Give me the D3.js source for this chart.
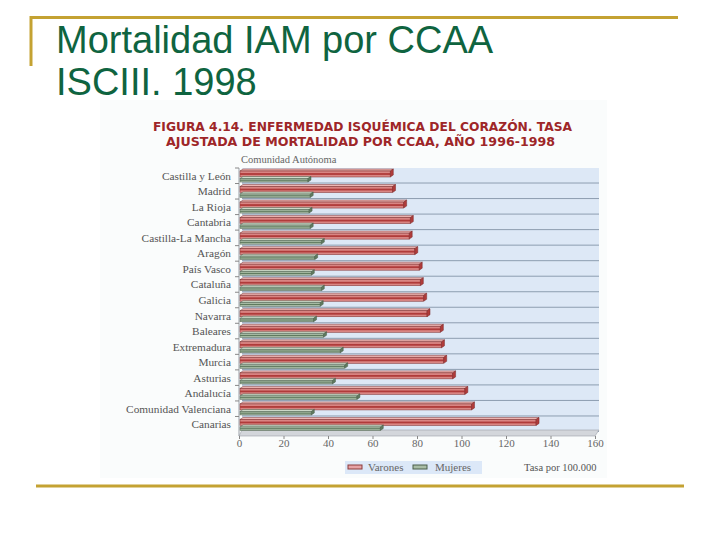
<!DOCTYPE html>
<html>
<head>
<meta charset="utf-8">
<script src="https://cdn.jsdelivr.net/npm/d3@7"></script>
<style>
  body { margin: 0; background: #ffffff; }
  svg { display: block; }
</style>
</head>
<body>
<div id="chart"></div>
<script>
// data
var regions = ["Castilla y León", "Madrid", "La Rioja", "Cantabria", "Castilla-La Mancha",
  "Aragón", "País Vasco", "Cataluña", "Galicia", "Navarra", "Baleares", "Extremadura",
  "Murcia", "Asturias", "Andalucía", "Comunidad Valenciana", "Canarias"];
var varones = [68, 69, 74, 77, 76.5, 79, 81, 81.5, 83, 84.5, 90.5, 91, 92, 96, 101.5, 104.5, 133.5];
var mujeres = [31, 32, 31.5, 32, 37, 34, 32.5, 37, 36.5, 33.5, 38, 45.5, 47.5, 42, 53, 32.5, 63.5];
var xTicks = [0, 20, 40, 60, 80, 100, 120, 140, 160];

var svgWidth = 720;
var svgHeight = 540;

var svg = d3.select("#chart")
  .append("svg")
  .attr("width", svgWidth)
  .attr("height", svgHeight);

var gold = "#c4a232";

// slide frame
svg.append("line").attr("x1", 30).attr("x2", 678).attr("y1", 17.5).attr("y2", 17.5)
  .attr("stroke", gold).attr("stroke-width", 3);
svg.append("line").attr("x1", 31).attr("x2", 31).attr("y1", 16).attr("y2", 66)
  .attr("stroke", gold).attr("stroke-width", 3);
svg.append("line").attr("x1", 36).attr("x2", 684).attr("y1", 486).attr("y2", 486)
  .attr("stroke", gold).attr("stroke-width", 3);

// slide title
var slideTitle = svg.append("text")
  .attr("font-family", "Liberation Sans, Arial, sans-serif")
  .attr("font-size", 38)
  .attr("fill", "#0f6440");
slideTitle.append("tspan").attr("x", 56).attr("y", 53).text("Mortalidad IAM por CCAA");
slideTitle.append("tspan").attr("x", 56).attr("y", 95).text("ISCIII. 1998");

// scanned figure background
svg.append("rect").attr("x", 100).attr("y", 100).attr("width", 507).attr("height", 378)
  .attr("fill", "#fafcfc");

// figure heading
svg.append("text")
  .attr("x", 153).attr("y", 131)
  .attr("textLength", 419).attr("lengthAdjust", "spacingAndGlyphs")
  .attr("font-family", "DejaVu Sans, sans-serif").attr("font-weight", "bold")
  .attr("font-size", 12.5).attr("fill", "#9e2628")
  .text("FIGURA 4.14. ENFERMEDAD ISQUÉMICA DEL CORAZÓN. TASA");
svg.append("text")
  .attr("x", 166).attr("y", 146)
  .attr("textLength", 389).attr("lengthAdjust", "spacingAndGlyphs")
  .attr("font-family", "DejaVu Sans, sans-serif").attr("font-weight", "bold")
  .attr("font-size", 12.5).attr("fill", "#9e2628")
  .text("AJUSTADA DE MORTALIDAD POR CCAA, AÑO 1996-1998");

svg.append("text")
  .attr("x", 241).attr("y", 163)
  .attr("font-family", "Liberation Serif, serif").attr("font-size", 10.5)
  .attr("fill", "#666")
  .text("Comunidad Autónoma");

// scales
var x = d3.scaleLinear().domain([0, 160]).range([239, 595]);
var y = d3.scaleBand().domain(regions).range([168, 432]);
var bw = y.bandwidth();

// back wall
svg.append("rect")
  .attr("x", x(0) + 3).attr("y", y.range()[0])
  .attr("width", x(160) - x(0) + 1).attr("height", y.range()[1] - y.range()[0])
  .attr("fill", "#dde8f6");

// horizontal grid lines between rows
svg.selectAll(".grid")
  .data(regions)
  .enter()
  .append("line")
  .attr("x1", x(0) + 3).attr("x2", x(160) + 4)
  .attr("y1", d => y(d) + bw - 0.5).attr("y2", d => y(d) + bw - 0.5)
  .attr("stroke", "#8d9db0").attr("stroke-width", 1);

// floor
var y0 = y.range()[1];
svg.append("path")
  .attr("d", `M${x(0) + 3},${y0 - 2} L${x(160) + 4},${y0 - 2} L${x(160)},${y0 + 4} L${x(0)},${y0 + 4} Z`)
  .attr("fill", "#d3d6db").attr("stroke", "#9aa0a8").attr("stroke-width", 0.6);

// left axis line + ticks
svg.append("line").attr("x1", x(0)).attr("x2", x(0)).attr("y1", y.range()[0]).attr("y2", y0 + 4)
  .attr("stroke", "#9aa0a8");
svg.selectAll(".ytick")
  .data(regions)
  .enter()
  .append("line")
  .attr("x1", x(0) - 4).attr("x2", x(0))
  .attr("y1", d => y(d)).attr("y2", d => y(d))
  .attr("stroke", "#888");

// bottom axis
var bottomAxis = d3.axisBottom(x).tickValues(xTicks).tickSize(3).tickPadding(0);
var axisG = svg.append("g")
  .attr("transform", `translate(0, ${y0 + 4})`)
  .call(bottomAxis);
axisG.select(".domain").remove();
axisG.selectAll("line").attr("stroke", "#888");
axisG.selectAll("text")
  .attr("font-family", "Liberation Serif, serif").attr("font-size", 11)
  .attr("fill", "#666");

// region labels
svg.selectAll(".ylab")
  .data(regions)
  .enter()
  .append("text")
  .attr("x", 231)
  .attr("y", d => y(d) + bw / 2 + 4)
  .attr("text-anchor", "end")
  .attr("font-family", "Liberation Serif, serif").attr("font-size", 11.3)
  .attr("fill", "#555")
  .text(d => d);

// 3D-ish bar drawing
function drawBars(values, top, h, col) {
  var g = svg.append("g");
  var rows = regions.map((r, i) => ({ r: r, v: values[i] }));
  var x0 = x(0) + 1;
  // top face
  g.selectAll(".top")
    .data(rows).enter().append("path")
    .attr("d", d => {
      var yy = y(d.r) + top, xe = x(d.v);
      return `M${x0},${yy} L${x0 + 3},${yy - 2} L${xe + 3},${yy - 2} L${xe},${yy} Z`;
    })
    .attr("fill", col.top).attr("stroke", col.edge).attr("stroke-width", 0.5);
  // front face
  g.selectAll(".front")
    .data(rows).enter().append("rect")
    .attr("x", x0).attr("y", d => y(d.r) + top)
    .attr("width", d => x(d.v) - x0).attr("height", h)
    .attr("fill", col.front).attr("stroke", col.edge).attr("stroke-width", 0.5);
  // shading stripe
  g.selectAll(".stripe")
    .data(rows).enter().append("rect")
    .attr("x", x0).attr("y", d => y(d.r) + top + h * 0.35)
    .attr("width", d => x(d.v) - x0).attr("height", h * 0.3)
    .attr("fill", col.dark);
  // end cap
  g.selectAll(".cap")
    .data(rows).enter().append("path")
    .attr("d", d => {
      var yy = y(d.r) + top, xe = x(d.v);
      return `M${xe},${yy} L${xe + 3},${yy - 2} L${xe + 3},${yy + h - 2} L${xe},${yy + h} Z`;
    })
    .attr("fill", col.dark).attr("stroke", col.edge).attr("stroke-width", 0.5);
}

drawBars(varones, 3, 6, { top: "#efb8b5", front: "#d98583", dark: "#b03b3a", edge: "#7a2a2a" });
drawBars(mujeres, 10.5, 3.5, { top: "#cfdccb", front: "#a9bda6", dark: "#5f7a5e", edge: "#4b5e4b" });

// legend
svg.append("rect").attr("x", 345).attr("y", 461).attr("width", 137).attr("height", 13)
  .attr("fill", "#dce8f8");
svg.append("rect").attr("x", 348).attr("y", 465).attr("width", 14).attr("height", 4)
  .attr("fill", "#e6a3a6").attr("stroke", "#8b3a3a");
svg.append("rect").attr("x", 413).attr("y", 465).attr("width", 14).attr("height", 4)
  .attr("fill", "#a9bda6").attr("stroke", "#4b5e4b");
svg.append("text").attr("x", 368).attr("y", 471)
  .attr("font-family", "Liberation Serif, serif").attr("font-size", 11).attr("fill", "#666")
  .text("Varones");
svg.append("text").attr("x", 435).attr("y", 471)
  .attr("font-family", "Liberation Serif, serif").attr("font-size", 11).attr("fill", "#666")
  .text("Mujeres");
svg.append("text").attr("x", 524).attr("y", 471)
  .attr("font-family", "Liberation Serif, serif").attr("font-size", 10.5).attr("fill", "#555")
  .text("Tasa por 100.000");
</script>
</body>
</html>
